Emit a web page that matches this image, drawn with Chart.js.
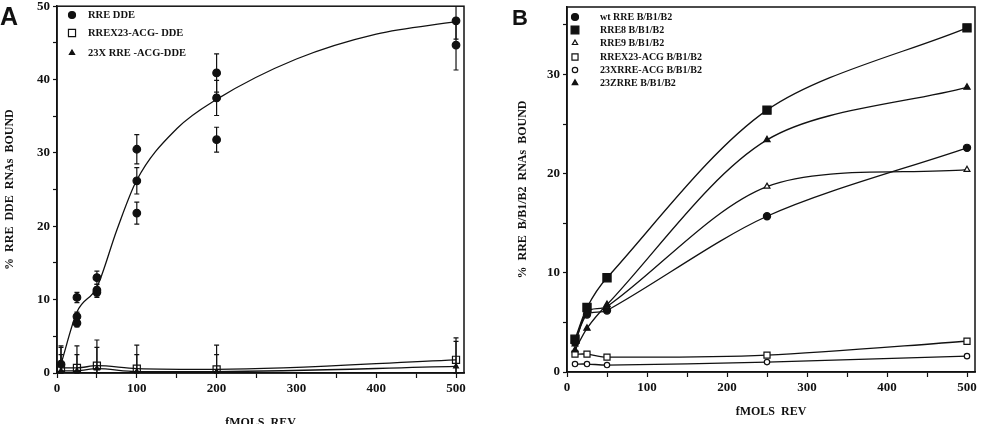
<!DOCTYPE html>
<html lang="en">
<head>
  <meta charset="UTF-8">
  <title>RRE binding vs REV</title>
  <script src="https://cdn.jsdelivr.net/npm/chart.js"></script>
  <style>
    body { margin: 0; background: #fff; }
    #wrap { position: relative; width: 982px; height: 424px; overflow: hidden; }
    canvas { position: absolute; top: 0; }
    #cA { left: 0; }
    #cB { left: 491px; }
  </style>
</head>
<body>
<div id="wrap">
  <canvas id="cA" width="491" height="424"></canvas>
  <canvas id="cB" width="491" height="424"></canvas>
</div>
<script>
  // ---- panel A data ----
  const rreX = [5, 25, 25, 25, 50, 50, 50, 100, 100, 100, 200, 200, 200, 500, 500];
  const rreY = [1.2, 10.3, 7.7, 6.8, 13.0, 11.3, 11.0, 30.5, 26.2, 21.8, 40.9, 37.5, 31.8, 48.0, 44.7];
  const rreErr = [2.3, 0.7, 0.6, 0.5, 0.9, 0.8, 0.7, 2.0, 1.8, 1.5, 2.6, 2.4, 1.7, 2.5, 3.4];
  const fitX = [5, 25, 50, 75, 100, 150, 200, 300, 400, 500];
  const fitY = [1.2, 8.3, 11.7, 19.5, 26.3, 33.3, 37.3, 42.8, 46.2, 47.9];
  const doseA = [5, 25, 50, 100, 200, 500];
  const acgY = [0.7, 0.7, 1.0, 0.6, 0.5, 1.8];
  const acgErr = [3.0, 3.0, 3.5, 3.2, 3.3, 3.0];
  const x23Y = [0.3, 0.3, 0.6, 0.2, 0.2, 0.9];
  const x23Err = [2.2, 2.2, 2.9, 2.3, 2.3, 3.4];
  const labelsA = ['RRE DDE', 'RREX23-ACG- DDE', '23X RRE -ACG-DDE'];

  // ---- panel B data ----
  const doseB = [10, 25, 50, 250, 500];
  const wtRRE = [3.0, 5.8, 6.2, 15.7, 22.6];
  const rre8 = [3.3, 6.5, 9.5, 26.4, 34.7];
  const rre9 = [2.8, 6.1, 6.6, 18.7, 20.4];
  const rrex23 = [1.8, 1.8, 1.5, 1.7, 3.1];
  const acg23x = [0.8, 0.8, 0.7, 1.0, 1.6];
  const rre23z = [2.2, 4.4, 6.8, 23.4, 28.7];
  const labelsB = ['wt RRE B/B1/B2', 'RRE8 B/B1/B2', 'RRE9 B/B1/B2',
                   'RREX23-ACG B/B1/B2', '23XRRE-ACG B/B1/B2', '23ZRRE B/B1/B2'];

  const INK = '#111';
  const SERIF = '"Liberation Serif", "DejaVu Serif", serif';
  const pts = (xs, ys) => xs.map((v, i) => ({ x: v, y: ys[i] }));

  // small marker drawer, used by the legend
  function marker(ctx, style, r, filled, x, y) {
    ctx.save();
    ctx.fillStyle = filled ? INK : '#fff';
    ctx.strokeStyle = INK;
    ctx.lineWidth = 1.2;
    ctx.beginPath();
    if (style === 'circle') {
      ctx.arc(x, y, r, 0, Math.PI * 2);
    } else if (style === 'rect') {
      const s = r * Math.SQRT1_2;
      ctx.rect(x - s, y - s, 2 * s, 2 * s);
    } else {
      const h = r * 1.5;
      ctx.moveTo(x, y - r);
      ctx.lineTo(x + h / Math.sqrt(3), y + r / 2);
      ctx.lineTo(x - h / Math.sqrt(3), y + r / 2);
      ctx.closePath();
    }
    ctx.fill();
    ctx.stroke();
    ctx.restore();
  }

  // vertical error bars from dataset.errs
  const errorBars = {
    id: 'errorBars',
    afterDatasetsDraw(chart) {
      const { ctx, chartArea: a, scales: { x, y } } = chart;
      ctx.save();
      ctx.beginPath();
      ctx.rect(a.left - 5, a.top, a.right - a.left + 10, a.bottom - a.top + 6);
      ctx.clip();
      ctx.strokeStyle = INK;
      ctx.lineWidth = 1.2;
      chart.data.datasets.forEach(ds => {
        if (!ds.errs) return;
        ds.data.forEach((p, j) => {
          const e = ds.errs[j];
          if (!e) return;
          const px = x.getPixelForValue(p.x);
          const t = y.getPixelForValue(p.y + e);
          const b = y.getPixelForValue(Math.max(p.y - e, 0));
          ctx.beginPath();
          ctx.moveTo(px, t); ctx.lineTo(px, b);
          ctx.moveTo(px - 2.5, t); ctx.lineTo(px + 2.5, t);
          ctx.moveTo(px - 2.5, b); ctx.lineTo(px + 2.5, b);
          ctx.stroke();
        });
      });
      ctx.restore();
    }
  };

  // box, panel letter and inside legend
  const frame = {
    id: 'frame',
    afterDraw(chart, args, o) {
      const { ctx, chartArea: a } = chart;
      ctx.save();
      ctx.strokeStyle = INK;
      ctx.lineWidth = 1.5;
      ctx.strokeRect(a.left, a.top, a.right - a.left, a.bottom - a.top);
      ctx.fillStyle = INK;
      ctx.font = 'bold ' + o.tagSize + 'px "Liberation Sans", Arial, sans-serif';
      ctx.fillText(o.tag, o.tagX, 25);
      ctx.font = 'bold ' + o.legendSize + 'px ' + SERIF;
      ctx.textBaseline = 'middle';
      o.items.forEach((it, i) => {
        const yy = o.rows[i];
        marker(ctx, it.style, it.r, it.filled, o.mx, yy);
        ctx.fillStyle = INK;
        ctx.fillText(it.text, o.tx, yy + 0.5);
      });
      ctx.restore();
    }
  };

  function axes(yMax, yWidth, xHeight, titleY, yTitlePad, xTitlePad) {
    const tickFont = { family: SERIF, weight: 'bold', size: 13 };
    const titleFont = { family: SERIF, weight: 'bold', size: 12 };
    return {
      x: {
        type: 'linear', min: 0, max: 510,
        ticks: { stepSize: 50, includeBounds: false, color: INK, font: tickFont, padding: 3,
                 maxRotation: 0, autoSkip: false,
                 callback: v => (v % 100 === 0 ? v : '') },
        grid: { drawOnChartArea: false, tickLength: 5, color: INK, tickWidth: 1.2 },
        border: { color: INK, width: 1.5 },
        title: { display: true, text: 'fMOLS  REV', color: INK, font: titleFont,
                 padding: { top: 0, bottom: xTitlePad } },
        afterFit: s => { s.height = xHeight; s.paddingLeft = 0; s.paddingRight = 0; }
      },
      y: {
        type: 'linear', min: 0, max: yMax,
        ticks: { stepSize: 5, includeBounds: false, color: INK, font: tickFont, padding: 3,
                 callback: v => (v % 10 === 0 ? v : '') },
        grid: { drawOnChartArea: false, tickLength: 4, color: INK, tickWidth: 1.2 },
        border: { color: INK, width: 1.5 },
        title: { display: true, text: titleY, color: INK, font: titleFont,
                 padding: { top: yTitlePad, bottom: 0 } },
        afterFit: s => { s.width = yWidth; s.paddingTop = 0; s.paddingBottom = 0; }
      }
    };
  }

  const lineBase = { showLine: true, borderColor: INK, borderWidth: 1.3,
                     cubicInterpolationMode: 'monotone', pointBorderColor: INK,
                     pointBorderWidth: 1.2 };
  // panel B curves are smooth splines rather than monotone
  const splineB = { ...lineBase, cubicInterpolationMode: 'default', tension: 0.3 };

  new Chart(document.getElementById('cA'), {
    type: 'scatter',
    data: {
      datasets: [
        { ...lineBase, label: labelsA[0], data: pts(rreX, rreY), errs: rreErr, showLine: false,
          pointStyle: 'circle', pointRadius: 3.8, pointBackgroundColor: INK },
        { ...lineBase, label: 'fit', data: pts(fitX, fitY), pointRadius: 0 },
        { ...lineBase, label: labelsA[2], data: pts(doseA, x23Y), errs: x23Err,
          pointStyle: 'triangle', pointRadius: 2.8, pointBackgroundColor: INK },
        { ...lineBase, label: labelsA[1], data: pts(doseA, acgY), errs: acgErr,
          pointStyle: 'rect', pointRadius: 5, pointBackgroundColor: 'rgba(255,255,255,0)' }
      ]
    },
    options: {
      responsive: false, animation: false,
      layout: { padding: { top: 5, right: 27, left: 0, bottom: 0 } },
      scales: axes(50, 57, 51, '%  RRE  DDE  RNAs  BOUND', 3, -6),
      plugins: {
        legend: { display: false }, tooltip: { enabled: false },
        frame: {
          tag: 'A', tagSize: 25, tagX: 0, mx: 72, tx: 88, legendSize: 10.5, rows: [15, 33, 53],
          items: [
            { text: labelsA[0], style: 'circle', r: 3.5, filled: true },
            { text: labelsA[1], style: 'rect', r: 5, filled: false },
            { text: labelsA[2], style: 'triangle', r: 3, filled: true }
          ]
        }
      }
    },
    plugins: [errorBars, frame]
  });

  new Chart(document.getElementById('cB'), {
    type: 'scatter',
    data: {
      datasets: [
        { ...splineB, label: labelsB[0], data: pts(doseB, wtRRE), pointStyle: 'circle',
          pointRadius: 3.6, pointBackgroundColor: INK },
        { ...splineB, label: labelsB[1], data: pts(doseB, rre8), pointStyle: 'rect',
          pointRadius: 5.8, pointBackgroundColor: INK },
        { ...splineB, label: labelsB[5], data: pts(doseB, rre23z), pointStyle: 'triangle',
          pointRadius: 3.6, pointBackgroundColor: INK },
        { ...splineB, label: labelsB[2], data: pts(doseB, rre9), pointStyle: 'triangle',
          pointRadius: 3.4, pointBackgroundColor: '#fff' },
        { ...splineB, label: labelsB[3], data: pts(doseB, rrex23), pointStyle: 'rect',
          pointRadius: 4.3, pointBackgroundColor: '#fff' },
        { ...splineB, label: labelsB[4], data: pts(doseB, acg23x), pointStyle: 'circle',
          pointRadius: 2.7, pointBackgroundColor: '#fff' }
      ]
    },
    options: {
      responsive: false, animation: false,
      layout: { padding: { top: 4, right: 6, left: 0, bottom: 0 } },
      scales: axes(36.8, 76, 52, '%  RRE  B/B1/B2  RNAs  BOUND', 25, 5),
      plugins: {
        legend: { display: false }, tooltip: { enabled: false },
        frame: {
          tag: 'B', tagSize: 22, tagX: 21, mx: 84, tx: 109, legendSize: 10,
          rows: [17, 30, 43, 57, 70, 83],
          items: [
            { text: labelsB[0], style: 'circle', r: 3.5, filled: true },
            { text: labelsB[1], style: 'rect', r: 5.5, filled: true },
            { text: labelsB[2], style: 'triangle', r: 3, filled: false },
            { text: labelsB[3], style: 'rect', r: 4.3, filled: false },
            { text: labelsB[4], style: 'circle', r: 2.7, filled: false },
            { text: labelsB[5], style: 'triangle', r: 3.2, filled: true }
          ]
        }
      }
    },
    plugins: [frame]
  });
</script>
</body>
</html>
